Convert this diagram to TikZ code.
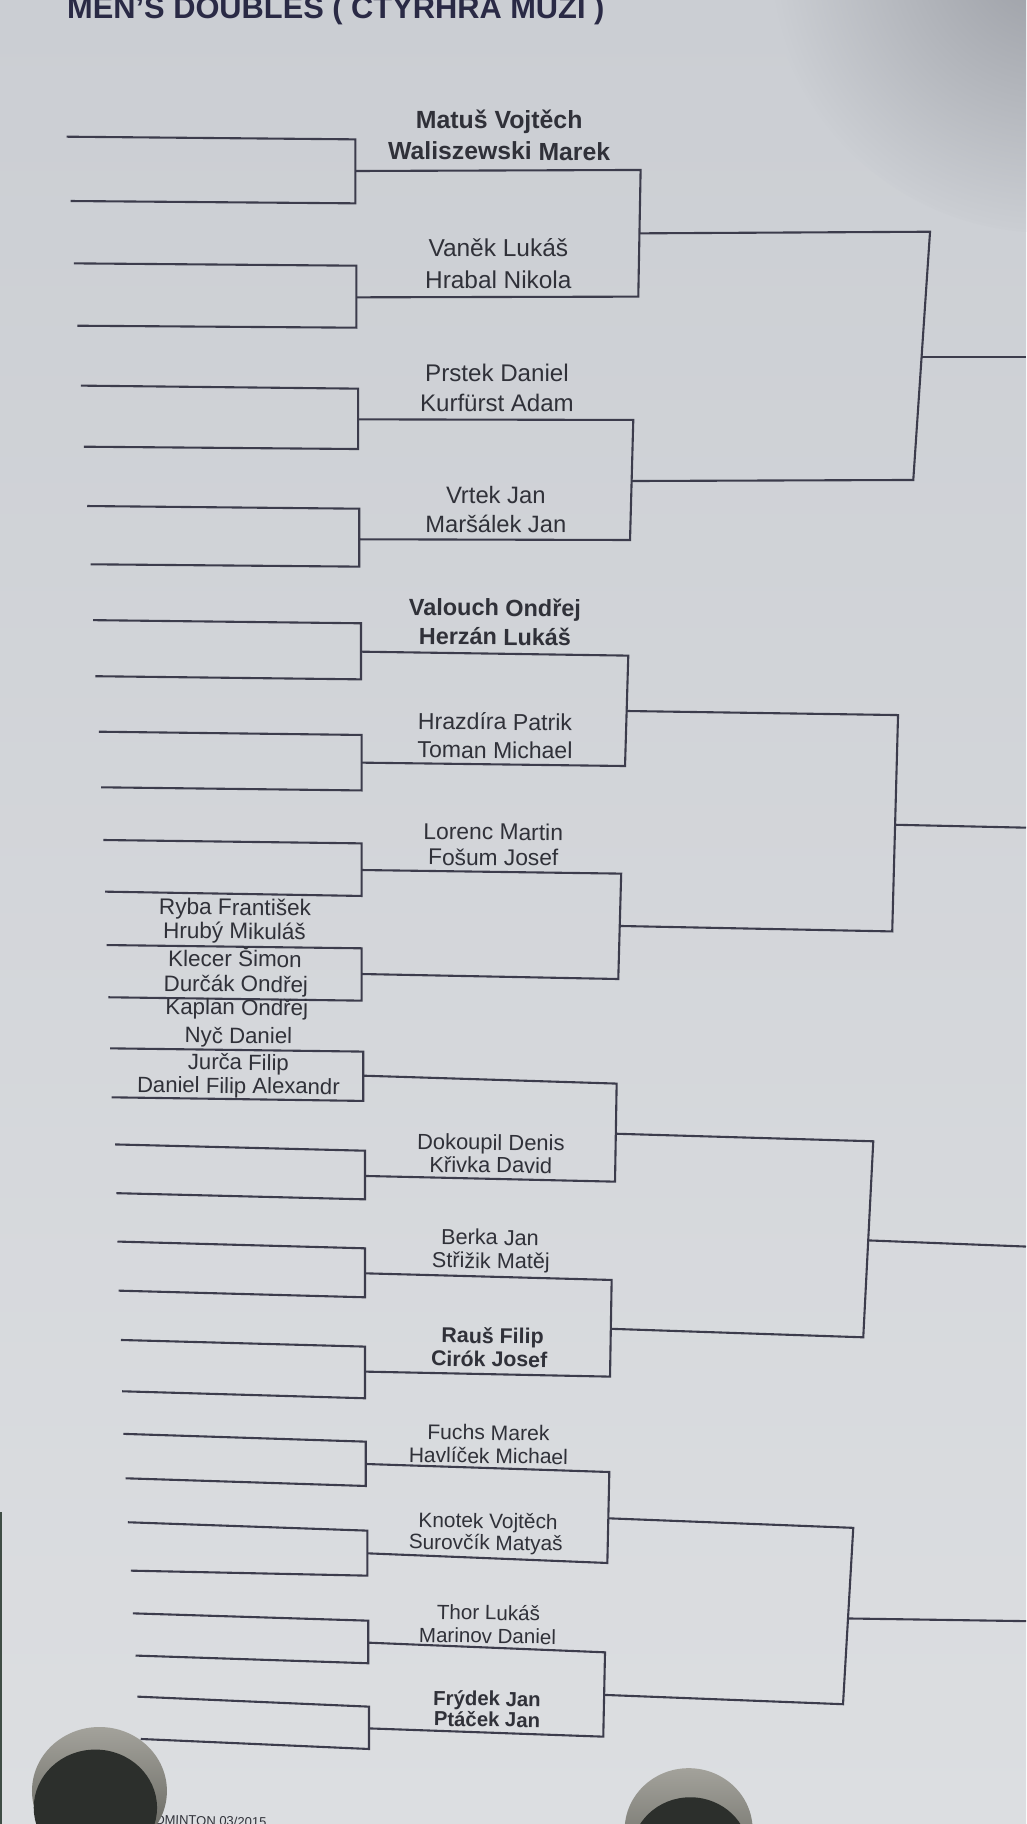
\documentclass[tikz,border=0pt]{standalone}
\usepackage{fontspec}
\setmainfont{Liberation Sans}
\definecolor{paperT}{HTML}{CBCED3}
\definecolor{paperB}{HTML}{DCDEE1}
\definecolor{shadowC}{HTML}{9A9DA4}
\definecolor{lineC}{HTML}{3C3C4C}
\definecolor{textC}{HTML}{303139}
\definecolor{titleC}{HTML}{2A2A45}
\definecolor{rimT}{HTML}{A3A29B}
\definecolor{rimB}{HTML}{5E5E58}
\definecolor{magC}{HTML}{2C2F2C}
\definecolor{edgeC}{HTML}{3F4D45}
\tikzset{
  bline/.style={draw=lineC, line width=2.1pt, line join=miter, line cap=butt},
  namestyle/.style={anchor=base, inner sep=0pt, text=textC}
}
% first-round match: id, xlT, yTl, xlB, yBl, xv, yTr, yBr, yOut
\newcommand\rone[9]{%
  \coordinate (#1tl) at (#2,#3);
  \coordinate (#1tr) at (#6,#7);
  \coordinate (#1bl) at (#4,#5);
  \coordinate (#1br) at (#6,#8);
  \coordinate (#1o) at (#6,#9);
  \draw[bline] (#1tl) -- (#1tr) -- (#1br) -- (#1bl);
}
% name: id, x, baseline y, text, weight
\newcommand\tname[5]{%
  \pgfmathsetmacro\tnfs{25.2-0.0033*#3}%
  \pgfmathsetmacro\tnrot{-0.0006*#3}%
  \node[namestyle, font=\fontsize{\tnfs pt}{\tnfs pt}\selectfont#5, rotate=\tnrot] (#1) at (#2,#3) {#4};
}
\begin{document}
\begin{tikzpicture}[x=1.1633pt,y=-1.1633pt]
\useasboundingbox (0,0) rectangle (882,1568);
\clip (0,0) rectangle (882,1568);
% paper
\shade[top color=paperT, bottom color=paperB] (0,0) rectangle (882,1568);
\shade[inner color=shadowC, outer color=paperT] (900,-40) circle (240);
\fill[edgeC] (0,1300) rectangle (1.8,1568);

% title
\node[anchor=base west, inner sep=0pt, text=titleC,
  font=\fontsize{30.8pt}{30.8pt}\selectfont\bfseries] (title) at (57.6,16)
  {MEN'S DOUBLES ( CTYRHRA MUZI )};

% first round
\rone{a}{57.3}{117.5}{60.8}{172.8}{305.5}{119.8}{174.8}{147}
\rone{b}{63.6}{226.4}{66.5}{280}{306.3}{228.4}{281.7}{255.6}
\rone{c}{69.6}{331.5}{72.2}{384}{307.8}{334.1}{386}{360.5}
\rone{d}{75}{435}{78}{485.1}{308.8}{437.3}{487.1}{463.6}
\rone{e}{80}{533.1}{82}{581.3}{310.3}{535.8}{584}{560.2}
\rone{f}{85}{629}{87}{676.8}{310.9}{631.8}{679.5}{655.6}
\rone{g}{88.8}{722.1}{90.3}{766.5}{310.9}{725}{770.2}{747.9}
\rone{h}{91.7}{812.4}{93.1}{857.3}{310.9}{815.2}{860.2}{837.3}
\rone{i}{94.6}{901.2}{96}{943.3}{312.3}{904}{946.4}{924.7}
\rone{j}{99}{983.8}{100}{1025.7}{313.8}{989.2}{1031}{1010.9}
\rone{k}{101}{1067.3}{102}{1109.5}{313.8}{1073.1}{1115.2}{1094.6}
\rone{l}{104}{1151.9}{105}{1196}{313.8}{1157.6}{1202}{1179.1}
\rone{m}{106}{1232.6}{108}{1270.8}{314.4}{1239.3}{1277.4}{1258.5}
\rone{n}{110}{1308.6}{112.5}{1350.2}{315.8}{1315.8}{1354.5}{1335.3}
\rone{o}{114.2}{1386.9}{116.5}{1423.2}{316.6}{1393.2}{1429.8}{1412.1}
\rone{p}{118.1}{1458.5}{121}{1494.9}{317.2}{1467.1}{1503.5}{1485.8}

% second round ends
\coordinate (ae) at (550.7,146.1);  \coordinate (be) at (548.7,255);
\coordinate (ce) at (544.4,361);    \coordinate (de) at (541.6,464.2);
\coordinate (ee) at (540.1,563.6);  \coordinate (fe) at (537.3,658.5);
\coordinate (ge) at (534,751);      \coordinate (he) at (531.5,841.6);
\coordinate (ie) at (530.1,931.5);  \coordinate (je) at (528.7,1015.8);
\coordinate (ke) at (525.8,1100.3); \coordinate (le) at (524.4,1183.4);
\coordinate (me) at (523.8,1265.4); \coordinate (ne) at (522.1,1343.6);
\coordinate (oe) at (520.1,1420.4); \coordinate (pe) at (518.6,1492.9);
\foreach \u/\v in {a/b,c/d,e/f,g/h,i/j,k/l,m/n,o/p}
  \draw[bline] (\u o) -- (\u e) -- (\v e) -- (\v o);

% third round
\coordinate (ABs) at (549.9,200.6);  \coordinate (ABe) at (799.5,199.2);
\coordinate (CDs) at (543.0,413.5);  \coordinate (CDe) at (785.1,412.6);
\coordinate (EFs) at (538.7,611.2);  \coordinate (EFe) at (772,614.7);
\coordinate (GHs) at (532.7,796);    \coordinate (GHe) at (767,800.7);
\coordinate (IJs) at (529.4,974.6);  \coordinate (IJe) at (750.7,981.1);
\coordinate (KLs) at (525.1,1142.3); \coordinate (KLe) at (742.1,1149.6);
\coordinate (MNs) at (523,1305.2);   \coordinate (MNe) at (733.5,1313.4);
\coordinate (OPs) at (519.4,1457);   \coordinate (OPe) at (724.7,1465);
\foreach \u/\v in {AB/CD,EF/GH,IJ/KL,MN/OP}
  \draw[bline] (\u s) -- (\u e) -- (\v e) -- (\v s);

% fourth round outputs
\coordinate (q1s) at (792.3,306.6);  \coordinate (q1e) at (882,306.6);
\coordinate (q2s) at (769.5,709);    \coordinate (q2e) at (882,711.5);
\coordinate (q3s) at (746.4,1066.3); \coordinate (q3e) at (882,1071.6);
\coordinate (q4s) at (729,1391.3);   \coordinate (q4e) at (882,1393.6);
\foreach \q in {q1,q2,q3,q4}
  \draw[bline] (\q s) -- (\q e);

% names
\tname{t1}{429.1}{110.3}{Matuš Vojtěch}{\bfseries}
\tname{t2}{429.1}{137.5}{Waliszewski Marek}{\bfseries}
\tname{t3}{428.4}{220.6}{Vaněk Lukáš}{}
\tname{t4}{428.4}{247.9}{Hrabal Nikola}{}
\tname{t5}{427.2}{328.1}{Prstek Daniel}{}
\tname{t6}{427.2}{353.9}{Kurfürst Adam}{}
\tname{t7}{426.2}{432.7}{Vrtek Jan}{}
\tname{t8}{426.2}{457.9}{Maršálek Jan}{}
\tname{t9}{425.5}{529.5}{Valouch Ondřej}{\bfseries}
\tname{t10}{425.5}{554.5}{Herzán Lukáš}{\bfseries}
\tname{t11}{425.5}{627.5}{Hrazdíra Patrik}{}
\tname{t12}{425.5}{651.9}{Toman Michael}{}
\tname{t13}{424}{722}{Lorenc Martin}{}
\tname{t14}{424}{744}{Fošum Josef}{}
\tname{t15}{202}{786.6}{Ryba František}{}
\tname{t16}{201.5}{807.2}{Hrubý Mikuláš}{}
\tname{t17}{202}{831}{Klecer Šimon}{}
\tname{t18}{202.7}{852.5}{Durčák Ondřej}{}
\tname{t19}{203.5}{872.5}{Kaplan Ondřej}{}
\tname{t20}{204.9}{896.9}{Nyč Daniel}{}
\tname{t21}{204.9}{919.8}{Jurča Filip}{}
\tname{t22}{204.9}{939.9}{Daniel Filip Alexandr}{}
\tname{t23}{421.9}{988.6}{Dokoupil Denis}{}
\tname{t24}{421.9}{1008.1}{Křivka David}{}
\tname{t25}{421.2}{1070.2}{Berka Jan}{}
\tname{t26}{421.9}{1090.3}{Střižik Matěj}{}
\tname{t27}{423.4}{1154.8}{Rauš Filip}{\bfseries}
\tname{t28}{420.5}{1174.8}{Cirók Josef}{\bfseries}
\tname{t29}{419.8}{1237.9}{Fuchs Marek}{}
\tname{t30}{419.8}{1257.9}{Havlíček Michael}{}
\tname{t31}{419.5}{1313.8}{Knotek Vojtěch}{}
\tname{t32}{417.5}{1332.4}{Surovčík Matyaš}{}
\tname{t33}{419.8}{1392.6}{Thor Lukáš}{}
\tname{t34}{419}{1412.6}{Marinov Daniel}{}
\tname{t35}{418.6}{1466.5}{Frýdek Jan}{\bfseries}
\tname{t36}{418.6}{1484.3}{Ptáček Jan}{\bfseries}

% footer
\node[anchor=base west, inner sep=0pt, text=textC, rotate=-1.5,
  font=\fontsize{13pt}{13pt}\selectfont] (foot) at (133.3,1568) {DMINTON 03/2015};

% magnets
\shade[top color=rimT, bottom color=rimB] (85.5,1539.6) ellipse [x radius=58, y radius=55];
\fill[magC] (82,1554) ellipse [x radius=53, y radius=50];
\shade[top color=rimT, bottom color=rimB] (592,1573) ellipse [x radius=55, y radius=53];
\fill[magC] (593.4,1593) ellipse [x radius=50.5, y radius=48];
\end{tikzpicture}
\end{document}
